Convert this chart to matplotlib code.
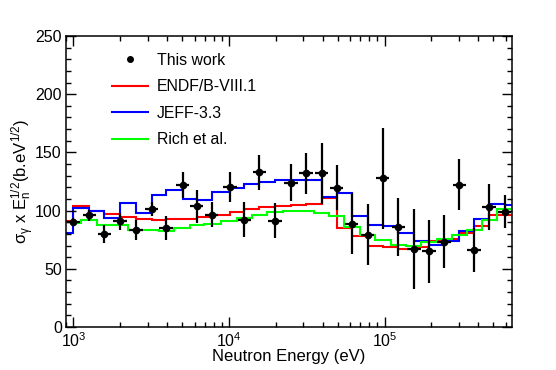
''' Capture cross section times sqrt(E) compared with evaluated libraries. '''
import numpy as np
import matplotlib.pyplot as plt
from matplotlib.lines import Line2D

plt.rcParams['font.family'] = ['Liberation Sans', 'DejaVu Sans']
plt.rcParams['mathtext.fontset'] = 'custom'
plt.rcParams['mathtext.rm'] = 'Liberation Sans'
plt.rcParams['mathtext.it'] = 'Liberation Sans:italic'
plt.rcParams['mathtext.bf'] = 'Liberation Sans:bold'
plt.rcParams['mathtext.default'] = 'regular'

# This work: neutron energy (eV), sigma_gamma * E^1/2 and its error
energy = [998, 1264, 1578, 1991, 2523, 3184, 3936, 5036, 6196, 7737,
          10140, 12530, 15660, 19770, 25060, 31270, 39450, 49290, 61560, 77980,
          97280, 122700, 154800, 193300, 241400, 302900, 376500, 470200, 593000]
sigma_e = [90.3, 96.0, 79.9, 90.8, 83.0, 101.4, 85.1, 121.8, 103.7, 96.6,
           120.1, 92.2, 133.0, 91.4, 123.9, 131.9, 131.9, 119.8, 88.8, 79.3,
           127.6, 85.6, 67.0, 64.9, 73.3, 122.2, 66.4, 103.2, 99.1]
sigma_err = [3, 4.9, 7.5, 7.2, 8.6, 6, 10, 11, 14, 11,
             13, 15, 15, 15, 16, 18, 26, 19, 26, 26,
             43, 25, 34, 27, 23, 22, 19, 20, 14]
bin_halfwidth = 0.043  # half bin width in decades

# Evaluations (histograms)
lib_edges = [800] + energy + [700000]
endf = [90.8, 104.3, 100.0, 97.0, 94.5, 92.5, 92.2, 92.5, 93.0, 94.7,
        96.6, 99.0, 101.0, 103.0, 104.0, 105.2, 105.7, 111.0, 85.0, 78.0,
        69.4, 68.4, 67.2, 68.7, 73.6, 75.6, 80.9, 86.6, 96.6, 96.6]
jeff = [80.8, 102.3, 99.4, 93.7, 106.6, 98.0, 113.0, 118.1, 110.1, 109.5,
        116.0, 119.5, 123.0, 124.4, 126.0, 126.7, 126.1, 111.8, 114.7, 95.1,
        87.9, 86.4, 80.7, 73.6, 70.7, 73.6, 82.2, 92.8, 105.7, 105.0]
rich_edges = [1000, 1123, 1412, 1773, 2241, 2834, 3540, 4452, 5586, 6924,
              8857, 11270, 14010, 17600, 22260, 27990, 35120, 44100, 55080, 69280,
              87100, 109300, 137800, 172900, 216000, 270400, 337700, 420700, 528000, 700000]
rich = [89.0, 92.2, 87.9, 87.9, 83.6, 83.2, 82.8, 85.1, 87.4, 88.5,
        91.4, 93.7, 96.0, 98.9, 100.0, 99.4, 97.9, 95.1, 85.9, 79.3,
        75.0, 70.7, 69.3, 73.0, 75.8, 79.3, 83.2, 91.5, 101.4]

E = np.array(energy)
xerr = [E * (1 - 10**-bin_halfwidth), E * (10**bin_halfwidth - 1)]

fig = plt.figure(figsize=(5.56, 3.70), dpi=100)
ax = fig.add_axes([0.1187, 0.1162, 0.8022, 0.7865])

ax.stairs(endf, lib_edges, baseline=None, color='#ff0000', lw=1.5)
ax.stairs(jeff, lib_edges, baseline=None, color='#0000ff', lw=1.5)
ax.stairs(rich, rich_edges, baseline=None, color='#00ff00', lw=1.5)
ax.errorbar(energy, sigma_e, yerr=sigma_err, xerr=xerr, fmt='o', color='k',
            ms=4.5, elinewidth=1.6, capsize=0, zorder=5)

ax.set_xscale('log')
ax.set_xlim(895, 660500)
ax.set_ylim(0, 250)
ax.set_yticks([0, 50, 100, 150, 200, 250])
ax.set_yticks(np.arange(0, 251, 10), minor=True)
ax.tick_params(which='both', direction='in', top=True, right=True, labelsize=11.5, pad=3)
ax.tick_params(which='major', length=7, width=1)
ax.tick_params(which='minor', length=3.5, width=1)
for s in ax.spines.values():
    s.set_linewidth(1.1)

ax.set_xlabel('Neutron Energy (eV)', fontsize=12)
ax.xaxis.set_label_coords(0.5, -0.075)
ax.set_ylabel(r'$\sigma_{\gamma}$ x E$_{n}^{1/2}$(b.eV$^{1/2}$)', fontsize=12)
ax.yaxis.set_label_coords(-0.068, 0.5)

handles = [Line2D([], [], marker='o', ls='none', color='k', ms=4),
           Line2D([], [], color='#ff0000', lw=1.5),
           Line2D([], [], color='#0000ff', lw=1.5),
           Line2D([], [], color='#00ff00', lw=1.5)]
labels = ['This work', 'ENDF/B-VIII.1', 'JEFF-3.3', 'Rich et al.']
ax.legend(handles, labels, loc='upper left', bbox_to_anchor=(111.7/556, 1 - 53/370),
          bbox_transform=fig.transFigure, frameon=False, fontsize=11.4,
          handlelength=2.3, handletextpad=0.55, labelspacing=0.72,
          borderpad=0, borderaxespad=0)

fig.savefig('out.png', dpi=100)
